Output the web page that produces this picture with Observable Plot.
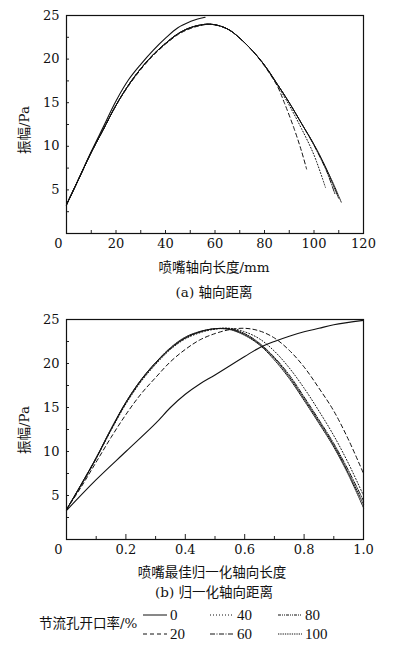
<!DOCTYPE html>
<html><head><meta charset="utf-8">
<script src="https://cdn.jsdelivr.net/npm/d3@7"></script>
<script src="https://cdn.jsdelivr.net/npm/@observablehq/plot@0.6"></script>
<style>
body{margin:0;background:#fff}
#wrap{position:relative;width:398px;height:647px;font-family:"DejaVu Serif","Noto Sans CJK SC",serif;color:#111;overflow:hidden}
.t{position:absolute;font-size:13.5px;white-space:nowrap;line-height:1;transform:translate(-50%,-50%)}
.r{transform:translate(-50%,-50%) rotate(-90deg)}
.pl{position:absolute;left:0}
.lg{font-family:"Liberation Serif","DejaVu Serif",serif}
</style></head>
<body><div id="wrap"></div>
<script>
// ---- Series (节流孔开口率/%) ----
const seriesNames = ["0", "20", "40", "60", "80", "100"];
const dashes = [null, "4,3", "1,2", "5,1.5,1,1.5", "3,1,1,1,1,1", "1.3,1"];

// ---- Panel (a): 喷嘴轴向长度/mm vs 振幅/Pa ----
const a0_x = [0, 5, 10, 15, 20, 25, 30, 35, 40, 45, 50, 53, 56];
const a0_y = [3.3, 6.3, 9.4, 12.3, 15.2, 17.6, 19.4, 21.0, 22.4, 23.6, 24.3, 24.6, 24.8];
const a20_x = [0, 5, 10, 15, 20, 25, 30, 35, 40, 45, 50, 55, 58, 62, 66, 70, 75, 80, 85, 88, 92, 95, 97];
const a20_y = [3.3, 6.3, 9.3, 12.0, 14.7, 16.9, 18.8, 20.4, 21.7, 22.8, 23.5, 23.9, 24.0, 23.8, 23.3, 22.4, 21.0, 19.2, 17.0, 15.0, 12.0, 9.4, 7.4];
const a40_x = [0, 5, 10, 15, 20, 25, 30, 35, 40, 45, 50, 55, 58, 62, 66, 70, 75, 80, 85, 90, 95, 100, 104.6];
const a40_y = [3.3, 6.3, 9.3, 12.0, 14.7, 17.0, 18.9, 20.5, 21.8, 22.9, 23.6, 23.95, 24.0, 23.8, 23.3, 22.4, 21.0, 19.3, 17.1, 14.7, 12.0, 9.0, 5.3];
const a60_x = [0, 5, 10, 15, 20, 25, 30, 35, 40, 45, 50, 55, 58, 62, 66, 70, 75, 80, 85, 90, 95, 100, 105, 108.5];
const a60_y = [3.3, 6.3, 9.3, 12.0, 14.7, 17.0, 18.9, 20.5, 21.8, 22.9, 23.6, 23.95, 24.0, 23.8, 23.3, 22.4, 21.0, 19.3, 17.2, 15.0, 12.6, 10.1, 7.2, 4.5];
const a80_x = [0, 5, 10, 15, 20, 25, 30, 35, 40, 45, 50, 55, 58, 62, 66, 70, 75, 80, 85, 90, 95, 100, 105, 110];
const a80_y = [3.3, 6.3, 9.3, 12.0, 14.7, 17.0, 18.9, 20.5, 21.8, 22.9, 23.6, 23.95, 24.0, 23.8, 23.3, 22.4, 21.0, 19.3, 17.2, 15.0, 12.6, 10.2, 7.4, 4.0];
const a100_x = [0, 5, 10, 15, 20, 25, 30, 35, 40, 45, 50, 55, 58, 62, 66, 70, 75, 80, 85, 90, 95, 100, 105, 108, 111];
const a100_y = [3.3, 6.3, 9.3, 12.0, 14.7, 17.0, 18.9, 20.5, 21.8, 22.9, 23.6, 23.95, 24.0, 23.8, 23.3, 22.4, 21.0, 19.3, 17.2, 15.0, 12.6, 10.2, 7.4, 5.6, 3.6];

// ---- Panel (b): 喷嘴最佳归一化轴向长度 vs 振幅/Pa ----
const b0_x = [0, 0.1, 0.2, 0.3, 0.35, 0.4, 0.45, 0.5, 0.6, 0.65, 0.7, 0.75, 0.8, 0.85, 0.9, 1.0];
const b0_y = [3.3, 6.8, 10.0, 13.2, 15.0, 16.5, 17.7, 18.7, 20.8, 21.8, 22.5, 23.1, 23.6, 24.0, 24.4, 24.9];
const bN_x = [0, 0.05, 0.1, 0.15, 0.2, 0.25, 0.3, 0.35, 0.4, 0.45, 0.5, 0.55, 0.6, 0.65, 0.7, 0.75, 0.8, 0.85, 0.9, 0.95, 1.0];
const b20_y = [3.4, 6.0, 8.8, 11.6, 14.2, 16.5, 18.4, 20.2, 21.6, 22.7, 23.4, 23.85, 24.0, 23.7, 22.9, 21.5, 19.6, 17.2, 14.6, 11.3, 7.5];
const b40_y = [3.4, 6.2, 9.2, 12.4, 15.4, 17.9, 19.9, 21.6, 22.8, 23.5, 23.9, 24.0, 23.6, 22.8, 21.4, 19.5, 17.2, 14.6, 11.8, 8.6, 5.0];
const b60_y = [3.4, 6.2, 9.2, 12.5, 15.5, 18.0, 20.0, 21.7, 22.9, 23.6, 23.95, 23.95, 23.4, 22.3, 20.7, 18.7, 16.2, 13.6, 10.9, 7.8, 4.4];
const b80_y = [3.4, 6.3, 9.3, 12.5, 15.6, 18.1, 20.1, 21.7, 22.9, 23.6, 23.95, 23.9, 23.3, 22.2, 20.6, 18.5, 16.0, 13.4, 10.7, 7.5, 4.0];
const b100_y = [3.4, 6.3, 9.3, 12.6, 15.6, 18.1, 20.1, 21.8, 23.0, 23.65, 23.95, 23.85, 23.2, 22.1, 20.4, 18.3, 15.8, 13.2, 10.5, 7.3, 3.6];

// ---- Axis ticks ----
const yTicks = [5, 10, 15, 20, 25];
const yMinor = [2.5, 5, 7.5, 10, 12.5, 15, 17.5, 20, 22.5];
const aXTicks = [20, 40, 60, 80, 100, 120];
const aXMinor = [10, 20, 30, 40, 50, 60, 70, 80, 90, 100, 110];
const bXTicks = [0.2, 0.4, 0.6, 0.8, 1.0];
const bXMajor = [0.2, 0.4, 0.6, 0.8];
const bXMinor = [0.1, 0.3, 0.5, 0.7, 0.9];

const serif = "DejaVu Serif";
const zip = (xs, ys) => xs.map((x, i) => ({x, y: ys[i]}));
const aSeries = [zip(a0_x, a0_y), zip(a20_x, a20_y), zip(a40_x, a40_y), zip(a60_x, a60_y), zip(a80_x, a80_y), zip(a100_x, a100_y)];
const bSeries = [zip(b0_x, b0_y), zip(bN_x, b20_y), zip(bN_x, b40_y), zip(bN_x, b60_y), zip(bN_x, b80_y), zip(bN_x, b100_y)];

function panel(series, xDomain, xTicks, xMajor, xMinor, fmt, height) {
  const W = 398, mL = 66, mR = 35, mT = 15, mB = 47;
  const innerW = W - mL - mR, innerH = height - mT - mB;
  const p = Plot.plot({
    width: W, height, marginLeft: mL, marginRight: mR, marginTop: mT, marginBottom: mB,
    style: {fontFamily: serif, fontSize: "13px", color: "#111", background: "transparent", overflow: "visible"},
    x: {domain: xDomain}, y: {domain: [0, 25]},
    marks: [
      ...series.map((d, i) => Plot.line(d, {x: "x", y: "y", curve: "catmull-rom", stroke: "#111", strokeWidth: i === 0 ? 1.1 : 1, strokeDasharray: dashes[i]})),
      Plot.tickY(yMinor, {y: d => d, insetRight: innerW - 3, stroke: "#222"}),
      Plot.tickX(xMinor, {x: d => d, insetTop: innerH - 3, stroke: "#222"}),
      Plot.tickX(xMajor, {x: d => d, insetTop: innerH - 5, stroke: "#222"}),
      Plot.frame({stroke: "#111", strokeWidth: 1.2}),
      Plot.axisY({ticks: yTicks, tickSize: 0, tickPadding: 7, label: null, fontFamily: serif}),
      Plot.axisX({ticks: xTicks, tickSize: 0, tickPadding: 5, label: null, tickFormat: fmt, fontFamily: serif}),
      Plot.axisX({ticks: [0], tickSize: 0, tickPadding: 5, label: null, dx: -8, tickFormat: d => "0", fontFamily: serif})
    ]
  });
  p.querySelectorAll("text").forEach(t => t.style.fontFamily = "'DejaVu Serif', serif");
  return p;
}

const wrap = document.getElementById("wrap");
const pa = panel(aSeries, [0, 120], aXTicks, [], aXMinor, d => String(d), 280);
pa.classList.add("pl"); pa.style.top = "0px"; wrap.appendChild(pa);
const pb = panel(bSeries, [0, 1], bXTicks, bXMajor, bXMinor, d => d.toFixed(1), 282);
pb.classList.add("pl"); pb.style.top = "304px"; wrap.appendChild(pb);

function txt(s, x, y, cls) {
  const d = document.createElement("div");
  d.className = "t" + (cls ? " " + cls : "");
  d.textContent = s; d.style.left = x + "px"; d.style.top = y + "px";
  wrap.appendChild(d); return d;
}
txt("振幅/Pa", 25, 130, "r");
txt("喷嘴轴向长度/mm", 214, 268);
txt("(a) 轴向距离", 214, 293);
txt("振幅/Pa", 25, 430, "r");
txt("喷嘴最佳归一化轴向长度", 212, 573);
txt("(b) 归一化轴向距离", 214, 593);
const lt = txt("节流孔开口率/%", 39, 624);
lt.style.transform = "translate(0,-50%)";

// legend entries
const legPos = [[143, 615], [143, 634], [210, 615], [210, 634], [278, 615], [278, 634]];
seriesNames.forEach((name, i) => {
  const [x, y] = legPos[i];
  const svg = d3.create("svg").attr("width", 25).attr("height", 4)
    .style("position", "absolute").style("left", x + "px").style("top", (y - 2) + "px");
  svg.append("line").attr("x1", 0).attr("x2", 24).attr("y1", 2).attr("y2", 2)
    .attr("stroke", "#111").attr("stroke-width", 1).attr("stroke-dasharray", dashes[i]);
  wrap.appendChild(svg.node());
  const l = txt(name, x + 27, y, "lg");
  l.style.transform = "translate(0,-50%)"; l.style.fontSize = "15px";
});
</script></body></html>
